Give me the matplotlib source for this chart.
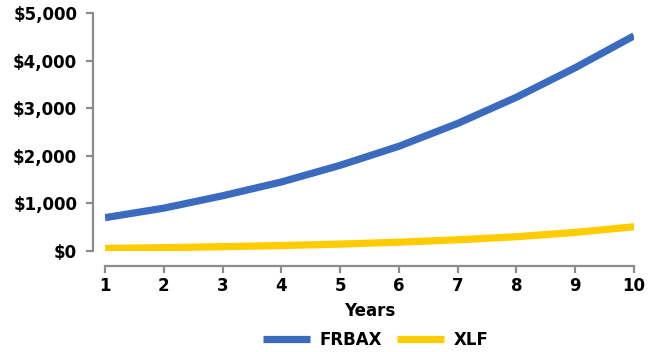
import matplotlib
matplotlib.use("Agg")
import matplotlib.pyplot as plt
from matplotlib.ticker import FuncFormatter

years = [1, 2, 3, 4, 5, 6, 7, 8, 9, 10]
frbax = [700, 900, 1160, 1450, 1800, 2200, 2680, 3230, 3850, 4520]
xlf = [55, 70, 90, 115, 145, 185, 235, 300, 390, 510]
series_names = ["FRBAX", "XLF"]
colors = ["#3A6BBF", "#FFCC00"]

plt.rcParams['font.family'] = ['DejaVu Sans']
fig = plt.figure(figsize=(6.57, 3.52), dpi=100)
ax = fig.add_axes([105/657, 1-251/352, (634-105)/657, (251-13)/352])

ax.plot(years, frbax, color=colors[0], lw=5.2, label=series_names[0], solid_capstyle='butt')
ax.plot(years, xlf, color=colors[1], lw=5.2, label=series_names[1], solid_capstyle='butt')

ax.set_xlim(1, 10)
ax.set_ylim(0, 5000)
ax.set_xticks(years)
ax.set_yticks([0, 1000, 2000, 3000, 4000, 5000])
ax.yaxis.set_major_formatter(FuncFormatter(lambda v, p: "${:,.0f}".format(v)))

for s in ['top', 'right']:
    ax.spines[s].set_visible(False)
ax.spines['left'].set_position(('outward', 9))
ax.spines['bottom'].set_position(('outward', 11))
for s in ['left', 'bottom']:
    ax.spines[s].set_color('#8c8c8c')
    ax.spines[s].set_linewidth(1.6)
ax.tick_params(axis='both', colors='#8c8c8c', width=1.6, length=5, labelcolor='black', labelsize=12)
ax.tick_params(axis='y', pad=6)
ax.tick_params(axis='x', pad=3)
for lab in ax.get_xticklabels() + ax.get_yticklabels():
    lab.set_fontweight('bold')

ax.set_xlabel("Years", fontsize=12, fontweight='bold', labelpad=5)
leg = fig.legend(loc='lower center', bbox_to_anchor=(0.572, -0.035), ncol=2, frameon=False,
                 prop={'size': 12, 'weight': 'bold'}, handlelength=2.8, handletextpad=0.6,
                 columnspacing=0.9)

fig.savefig("out.png", dpi=100)
